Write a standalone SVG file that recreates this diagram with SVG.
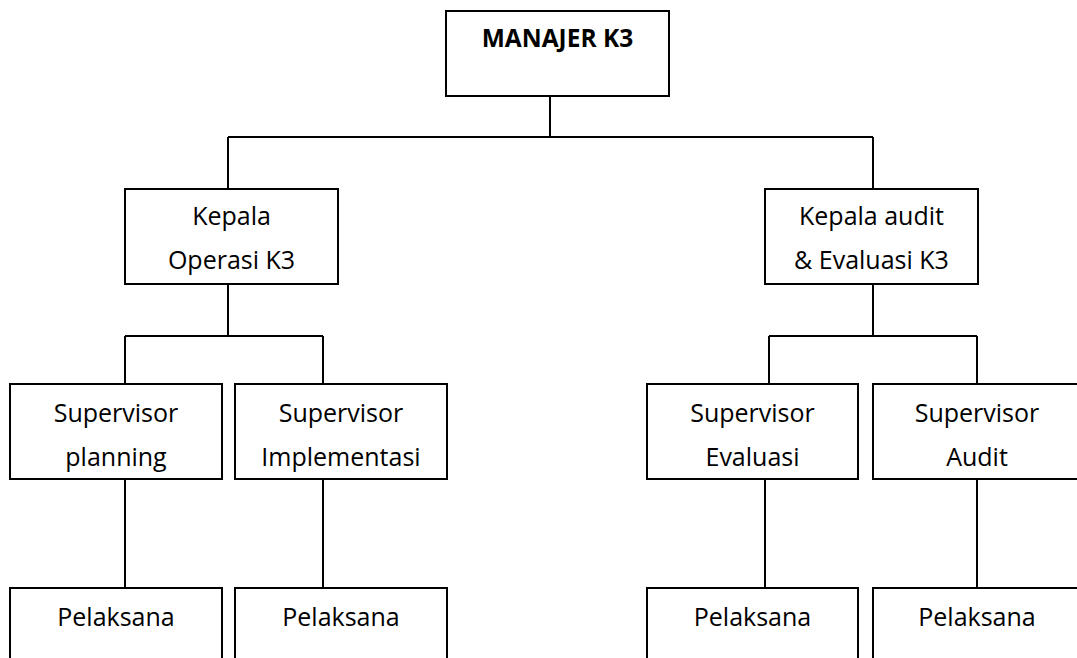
<svg xmlns="http://www.w3.org/2000/svg" width="1077" height="658" viewBox="0 0 1077 658">
<style>
.box{fill:#fff;stroke:#000;stroke-width:2}
.ln{fill:none;stroke:#000;stroke-width:2}
.t{font-family:"Open Sans","Noto Sans",sans-serif;font-size:25px;fill:#000;text-anchor:middle}
.b{font-weight:bold;font-size:24.5px}
</style>
<rect width="1077" height="658" fill="#fff"/>
<g id="connectors">
<path class="ln" d="M550 96V137M228 137H873M228 137V189M873 137V189"/>
<path class="ln" d="M228 284V336M125 336H323M125 336V384M323 336V384"/>
<path class="ln" d="M873 284V336M769 336H977M769 336V384M977 336V384"/>
<path class="ln" d="M125 479V588M323 479V588M765 479V588M977 479V588"/>
</g>
<g id="manajer"><rect class="box" x="446" y="11" width="223" height="85"/><text class="t b" x="557.5" y="47">MANAJER K3</text></g>
<g id="kepala-operasi"><rect class="box" x="125" y="189" width="213" height="95"/><text class="t" x="231.5" y="225">Kepala</text><text class="t" x="231.5" y="269">Operasi K3</text></g>
<g id="kepala-audit"><rect class="box" x="765" y="189" width="213" height="95"/><text class="t" x="871.5" y="225">Kepala audit</text><text class="t" x="871.5" y="269">&amp; Evaluasi K3</text></g>
<g id="sup-planning"><rect class="box" x="10" y="384" width="212" height="95"/><text class="t" x="116" y="422">Supervisor</text><text class="t" x="116" y="466">planning</text></g>
<g id="sup-implementasi"><rect class="box" x="235" y="384" width="212" height="95"/><text class="t" x="341" y="422">Supervisor</text><text class="t" x="341" y="466">Implementasi</text></g>
<g id="sup-evaluasi"><rect class="box" x="647" y="384" width="211" height="95"/><text class="t" x="752.5" y="422">Supervisor</text><text class="t" x="752.5" y="466">Evaluasi</text></g>
<g id="sup-audit"><rect class="box" x="873" y="384" width="212" height="95"/><text class="t" x="977" y="422">Supervisor</text><text class="t" x="977" y="466">Audit</text></g>
<g id="pelaksana-1"><rect class="box" x="10" y="588" width="212" height="100"/><text class="t" x="116" y="626">Pelaksana</text></g>
<g id="pelaksana-2"><rect class="box" x="235" y="588" width="212" height="100"/><text class="t" x="341" y="626">Pelaksana</text></g>
<g id="pelaksana-3"><rect class="box" x="647" y="588" width="211" height="100"/><text class="t" x="752.5" y="626">Pelaksana</text></g>
<g id="pelaksana-4"><rect class="box" x="873" y="588" width="212" height="100"/><text class="t" x="977" y="626">Pelaksana</text></g>
</svg>
